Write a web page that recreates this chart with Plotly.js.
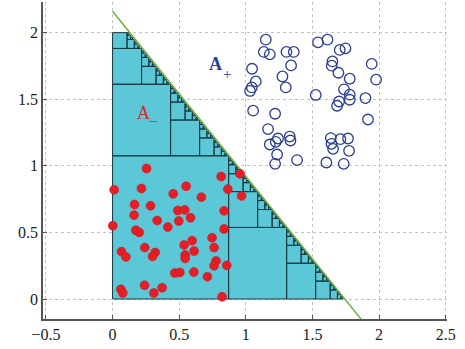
<!DOCTYPE html>
<html>
<head>
<meta charset="utf-8">
<script src="https://cdn.plot.ly/plotly-3.0.1.min.js"></script>
<style>html,body{margin:0;padding:0;background:#fff;}#chart{width:465px;height:349px;}</style>
</head>
<body>
<div id="chart"></div>
<script>
// Region decomposed into boxes: rectangle corner (Wx, Wy), capped at y = yCap
const regionCorner = [1.742, 2.15];
const yCap = [2.0];
const maxDepth = [7];

// Boundary line endpoints
const boundaryX = [0, 1.87];
const boundaryY = [2.16, -0.157];

// A- samples (red dots)
const redX = [0.255,0.012,0.217,0.455,0.165,0.285,0.162,0.49,0.335,0.497,0.415,0.002,0.175,0.2,0.067,0.10,0.242,0.32,0.30,0.467,0.505,0.062,0.077,0.24,0.372,0.31,
              0.815,0.957,0.552,0.667,0.865,0.968,0.837,0.542,0.585,0.837,0.747,0.597,0.537,0.762,0.612,0.545,0.545,0.777,0.762,0.857,0.61,0.712,0.822];
const redY = [0.98,0.82,0.83,0.79,0.71,0.70,0.63,0.665,0.59,0.586,0.54,0.55,0.516,0.50,0.356,0.316,0.386,0.35,0.32,0.195,0.20,0.073,0.045,0.103,0.085,0.045,
              0.92,0.94,0.847,0.765,0.825,0.774,0.662,0.669,0.61,0.526,0.46,0.438,0.406,0.386,0.36,0.33,0.305,0.286,0.25,0.253,0.203,0.168,0.017];

// A+ samples (blue circles)
const blueX = [1.15,1.135,1.18,1.305,1.36,1.047,1.34,1.075,1.275,1.045,1.032,1.30,1.542,1.613,1.705,1.748,1.65,1.645,1.945,1.695,1.78,1.978,1.525,1.737,1.78,1.78,1.70,1.685,1.898,1.917,
               1.055,1.22,1.167,1.18,1.225,1.242,1.33,1.335,1.235,1.22,1.385,1.638,1.643,1.655,1.71,1.767,1.775,1.605,1.735];
const blueY = [1.947,1.855,1.837,1.855,1.855,1.729,1.754,1.634,1.671,1.589,1.562,1.589,1.927,1.947,1.87,1.882,1.784,1.752,1.765,1.699,1.654,1.647,1.532,1.574,1.534,1.496,1.483,1.451,1.509,1.348,
               1.414,1.391,1.276,1.16,1.18,1.205,1.22,1.19,1.085,1.015,1.043,1.208,1.165,1.128,1.20,1.205,1.113,1.025,1.015];

const tickVals = [-0.5,0,0.5,1,1.5,2,2.5];
const yTickVals = [0,0.5,1,1.5,2];
// Set labels: main letter and its subscript sign
const labelMain = ['<b>A</b>', 'A'];
const labelSub = ['+', '–'];
const labelX = [0.775, 0.232];
const labelY = [1.762, 1.393];
const subX = [0.857, 0.31];
const subY = [1.69, 1.345];
const labelColors = ['#2b3d9e', '#d42a2a'];

// Build box decomposition
const Wx = regionCorner[0], Wy = regionCorner[1], cap = yCap[0];
function lineY(x){ return Wy*(1 - x/Wx); }
const boxes = [];
function decompose(x0,y0,x1,y1,d){
  if (y0 >= cap - 1e-12) return;
  if (lineY(x0) <= y0 + 1e-12) return;
  const top = Math.min(y1, cap);
  if (top <= lineY(x1) + 1e-9) { boxes.push([x0,y0,x1,top]); return; }
  if (d >= maxDepth[0]) return;
  const xm=(x0+x1)/2, ym=(y0+y1)/2;
  decompose(x0,y0,xm,ym,d+1);
  decompose(xm,y0,x1,ym,d+1);
  decompose(x0,ym,xm,y1,d+1);
  decompose(xm,ym,x1,y1,d+1);
}
decompose(0,0,Wx,Wy,0);
const bx=[], by=[];
boxes.forEach(b=>{
  bx.push(b[0],b[2],b[2],b[0],b[0],null);
  by.push(b[1],b[1],b[3],b[3],b[1],null);
});

const serif = 'Liberation Serif, Times New Roman, serif';
const traces = [
  {x:bx, y:by, type:'scatter', mode:'lines', fill:'toself', fillcolor:'#5cc7d7',
   line:{color:'#173a42', width:1}, hoverinfo:'skip', showlegend:false},
  {x:boundaryX, y:boundaryY, type:'scatter', mode:'lines', line:{color:'#6fb23f', width:1.5}, showlegend:false},
  {x:redX, y:redY, type:'scatter', mode:'markers', marker:{color:'#e41e26', size:9, line:{color:'#d0141c', width:0.5}}, showlegend:false},
  {x:blueX, y:blueY, type:'scatter', mode:'markers', marker:{symbol:'circle-open', color:'#2b3d8e', size:10.5, line:{width:1.3, color:'#2b3d8e'}}, showlegend:false}
];

const axisCommon = {
  showline:true, linecolor:'#555', linewidth:1.8, ticks:'inside', ticklen:4, tickcolor:'#555',
  showgrid:true, gridcolor:'#c4c4c4', griddash:'dot', gridwidth:1, zeroline:false,
  tickfont:{family:serif, size:16, color:'#222'}, mirror:false
};

const annotations = [];
for (let i = 0; i < labelMain.length; i++) {
  annotations.push({x:labelX[i], y:labelY[i], text:labelMain[i], showarrow:false, xanchor:'center', yanchor:'middle',
    font:{family:serif, size:18, color:labelColors[i]}});
  annotations.push({x:subX[i], y:subY[i], text:labelSub[i], showarrow:false, xanchor:'center', yanchor:'middle',
    font:{family:serif, size:15, color:labelColors[i]}});
}

const layout = {
  width:465, height:349, margin:{l:43, r:18, t:2, b:30},
  paper_bgcolor:'#fff', plot_bgcolor:'#fff',
  xaxis:Object.assign({}, axisCommon, {range:[-0.522,2.51], tickvals:tickVals, ticktext:['−0.5','0','0.5','1','1.5','2','2.5']}),
  yaxis:Object.assign({}, axisCommon, {range:[-0.15,2.23], tickvals:yTickVals, ticktext:['0','0.5','1','1.5','2']}),
  annotations:annotations
};

Plotly.newPlot('chart', traces, layout, {displayModeBar:false, staticPlot:true});
</script>
</body>
</html>
